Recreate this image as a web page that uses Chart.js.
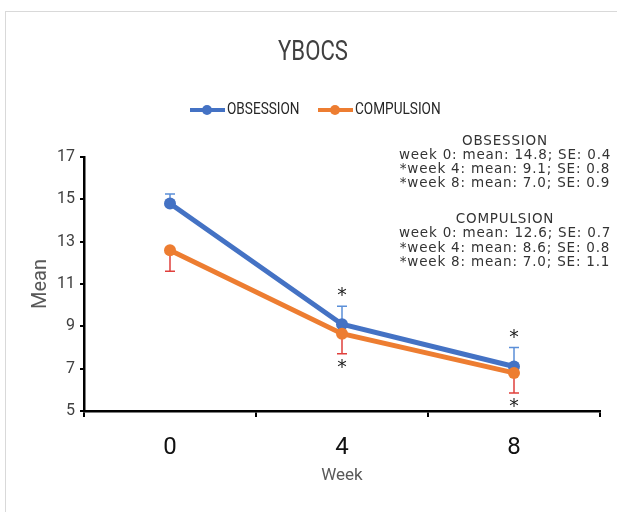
<!DOCTYPE html>
<html>
<head>
<meta charset="utf-8">
<script src="https://cdn.jsdelivr.net/npm/chart.js@4.4.1/dist/chart.umd.min.js"></script>
<style>
  html, body { margin: 0; padding: 0; background: #fff; }
  #wrap { position: absolute; left: 0; top: 0; width: 617px; height: 512px; }
</style>
</head>
<body>
<div id="wrap"><canvas id="ybocs" width="617" height="512"></canvas></div>
<script>
(function(){
    'use strict';

    // data
    var weeks = ['0', '4', '8'];
    var obsMean = [14.8, 9.1, 7.1];
    var compMean = [12.6, 8.65, 6.8];
    var obsErr = [0.45, 0.85, 0.9];   // drawn upward
    var compErr = [1.0, 0.95, 0.95];  // drawn downward
    var obsStar = [false, true, true];
    var compStar = [false, true, true];
    var yTicks = [5, 7, 9, 11, 13, 15, 17];

    var obsNotes = ['OBSESSION',
        'week 0: mean: 14.8; SE: 0.4',
        '*week 4: mean: 9.1; SE: 0.8',
        '*week 8: mean: 7.0; SE: 0.9'];
    var compNotes = ['COMPULSION',
        'week 0: mean: 12.6; SE: 0.7',
        '*week 4: mean: 8.6; SE: 0.8',
        '*week 8: mean: 7.0; SE: 1.1'];

    var BLUE = '#4472c4';
    var ORANGE = '#ed7d31';
    var CAL = "'Liberation Sans Narrow', Roboto, sans-serif";

    // narrow text by squeezing it sideways (no condensed font installed)
    function narrowText(ctx, txt, x, y, sx, align){
        ctx.save();
        ctx.translate(x, y);
        ctx.scale(sx, 1);
        ctx.textAlign = align;
        ctx.fillText(txt, 0, 0);
        ctx.restore();
    }

    var extras = {
        id: 'extras',
        beforeDraw: function(chart){
            var ctx = chart.ctx;
            ctx.save();
            ctx.fillStyle = '#fff';
            ctx.fillRect(0, 0, chart.width, chart.height);
            ctx.strokeStyle = '#d9d9d9';
            ctx.lineWidth = 1;
            ctx.strokeRect(5.5, 11.5, 800, 800);
            ctx.restore();
        },
        beforeDatasetsDraw: function(chart){
            var ctx = chart.ctx, x = chart.scales.x, y = chart.scales.y;
            ctx.save();
            ctx.lineWidth = 1.5;
            function bar(i, v, e, dir, color){
                var px = x.getPixelForValue(i);
                var p0 = y.getPixelForValue(v);
                var p1 = y.getPixelForValue(v + dir * e);
                ctx.strokeStyle = color;
                ctx.beginPath();
                ctx.moveTo(px, p0); ctx.lineTo(px, p1);
                ctx.moveTo(px - 5, p1); ctx.lineTo(px + 5, p1);
                ctx.stroke();
            }
            for (var i = 0; i < weeks.length; i++) {
                bar(i, obsMean[i], obsErr[i], 1, '#5b8fd8');
                bar(i, compMean[i], compErr[i], -1, '#e0403c');
            }
            ctx.restore();
        },
        afterDraw: function(chart){
            var ctx = chart.ctx, x = chart.scales.x, y = chart.scales.y;
            ctx.save();

            // title
            ctx.fillStyle = '#404040';
            ctx.font = '27px ' + CAL;
            ctx.textBaseline = 'middle';
            narrowText(ctx, 'YBOCS', 313, 53, 0.82, 'center');

            // legend
            function legendItem(x0, color, label){
                ctx.strokeStyle = color;
                ctx.lineWidth = 4;
                ctx.beginPath();
                ctx.moveTo(x0, 110); ctx.lineTo(x0 + 35, 110);
                ctx.stroke();
                ctx.fillStyle = color;
                ctx.beginPath();
                ctx.arc(x0 + 17, 110, 5, 0, Math.PI * 2);
                ctx.fill();
                ctx.fillStyle = '#262626';
                ctx.font = '17px ' + CAL;
                narrowText(ctx, label, x0 + 37, 110, 0.8, 'left');
            }
            legendItem(190, BLUE, 'OBSESSION');
            legendItem(318, ORANGE, 'COMPULSION');

            // notes
            ctx.fillStyle = '#333';
            ctx.font = '13.5px "DejaVu Sans", Verdana, sans-serif';
            ctx.letterSpacing = '0.8px';
            ctx.textAlign = 'center';
            ctx.textBaseline = 'middle';
            obsNotes.forEach(function(t, k){ ctx.fillText(t, 505, 141 + k * 14.3); });
            compNotes.forEach(function(t, k){ ctx.fillText(t, 505, 219 + k * 14.6); });
            ctx.letterSpacing = '0px';

            // significance stars
            ctx.fillStyle = '#222';
            ctx.font = '19px "DejaVu Sans", sans-serif';
            ctx.textBaseline = 'alphabetic';
            for (var i = 0; i < weeks.length; i++) {
                var px = x.getPixelForValue(i);
                if (obsStar[i]) {
                    ctx.fillText('*', px, y.getPixelForValue(obsMean[i] + obsErr[i]) - 5);
                }
                if (compStar[i]) {
                    ctx.fillText('*', px, y.getPixelForValue(compMean[i] - compErr[i]) + 19);
                }
            }
            ctx.restore();
        }
    };

    var el = document.getElementById('ybocs');
    new Chart(el, {
        type: 'line',
        data: {
            labels: weeks,
            datasets: [{
                label: 'OBSESSION',
                data: obsMean,
                borderColor: BLUE,
                backgroundColor: BLUE,
                borderWidth: 5,
                pointRadius: 6,
                pointBorderWidth: 0,
                order: 1
            }, {
                label: 'COMPULSION',
                data: compMean,
                borderColor: ORANGE,
                backgroundColor: ORANGE,
                borderWidth: 5,
                pointRadius: 6,
                pointBorderWidth: 0,
                order: 0
            }]
        },
        options: {
            responsive: false,
            animation: false,
            devicePixelRatio: 1,
            layout: { padding: { left: 0, top: 157, right: 17, bottom: 0 } },
            plugins: {
                legend: { display: false },
                title: { display: false },
                tooltip: { enabled: false }
            },
            scales: {
                x: {
                    type: 'category',
                    offset: true,
                    afterFit: function(s){ s.height = 101; },
                    grid: {
                        offset: true,
                        drawOnChartArea: false,
                        drawTicks: true,
                        tickLength: 6,
                        color: '#000',
                        lineWidth: 2
                    },
                    border: { display: true, color: '#000', width: 2.5 },
                    ticks: {
                        color: '#111',
                        padding: 17,
                        font: { family: CAL, size: 24 }
                    },
                    title: {
                        display: true,
                        text: 'Week',
                        color: '#595959',
                        padding: { top: 0, bottom: 26 },
                        font: { family: CAL, size: 17 }
                    }
                },
                y: {
                    min: 5,
                    max: 17,
                    afterFit: function(s){ s.width = 84; },
                    afterBuildTicks: function(s){
                        s.ticks = yTicks.map(function(v){ return { value: v }; });
                    },
                    grid: {
                        drawOnChartArea: false,
                        drawTicks: true,
                        tickLength: 4,
                        color: '#000',
                        lineWidth: 2
                    },
                    border: { display: true, color: '#000', width: 2.5 },
                    ticks: {
                        color: '#404040',
                        padding: 5,
                        font: { family: CAL, size: 16 }
                    },
                    title: {
                        display: true,
                        text: 'Mean',
                        color: '#595959',
                        padding: { top: 29, bottom: 0 },
                        font: { family: CAL, size: 20 }
                    }
                }
            }
        },
        plugins: [extras]
    });
}());
</script>
</body>
</html>
